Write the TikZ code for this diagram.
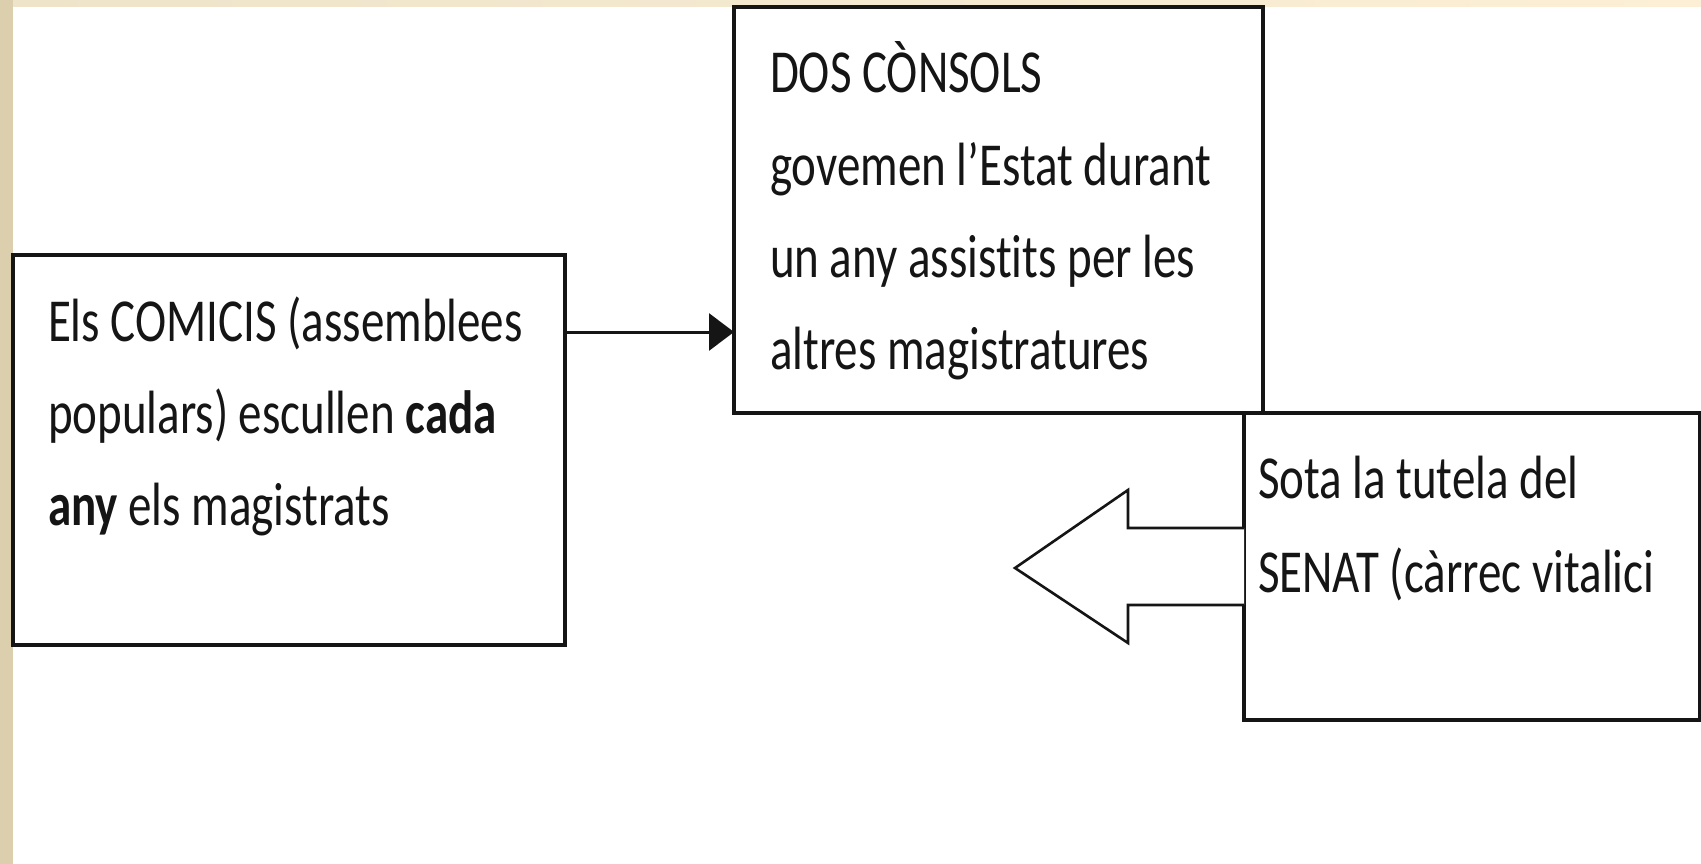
\documentclass[tikz,border=0pt]{standalone}
\usepackage{fontspec}
\setmainfont{Carlito}[RawFeature={-liga;-clig;-dlig}]
\usetikzlibrary{arrows.meta}
\definecolor{leftstrip}{HTML}{DCCFAE}
\definecolor{topA}{HTML}{EDE4CA}
\definecolor{topB}{HTML}{FCEFD6}
\definecolor{ink}{HTML}{151515}
\newcommand{\boxtext}[1]{\fontsize{47}{70.8}\selectfont\scalebox{1}[1.3]{\begin{tabular}[t]{@{}l@{}}#1\end{tabular}}}
\begin{document}
\begin{tikzpicture}[x=1pt,y=-1pt,
  box/.style={draw=ink, line width=3.2pt, rectangle, inner sep=0pt, outer sep=0pt, anchor=north west, fill=white},
  txt/.style={anchor=base west, inner sep=0pt, outer sep=0pt, text=ink},
  conn/.style={draw=ink, line width=3pt, -{Triangle[length=25pt,width=37pt]}},
  blockarrow/.style={draw=ink, line width=2.6pt, line join=miter, fill=white}]
  \useasboundingbox (0,0) rectangle (1701,864);
  \fill[white] (0,0) rectangle (1701,864);
  \shade[left color=topA, right color=topB] (0,0) rectangle (1701,7);
  \fill[leftstrip] (0,0) rectangle (13,864);

  % boxes
  \node[box, minimum width=552pt, minimum height=390pt] (A) at (13,255) {};
  \node[box, minimum width=529pt, minimum height=406pt] (B) at (734,7) {};
  \node[box, minimum width=456pt, minimum height=307pt] (C) at (1244,413) {};

  % texts
  \node[txt] (tA) at (48,341) {\boxtext{Els COMICIS (assemblees\\populars) escullen \textbf{cada}\\\textbf{any} els magistrats}};
  \node[txt] (tB) at (770,93) {\boxtext{DOS CÒNSOLS\\govemen l’Estat durant\\un any assist\kern0pt its per les\\altres magistratures}};
  \node[txt] (tC) at (1258,498) {\fontsize{47}{73}\selectfont\scalebox{1}[1.3]{\begin{tabular}[t]{@{}l@{}}Sota la tutela del\\SENAT (càrrec vitalici\end{tabular}}};

  % connector A -> B
  \coordinate (a1) at ([yshift=-77pt]A.north east);
  \draw[conn] (a1) -- (a1 -| B.west);

  % block arrow from C pointing left
  \coordinate (s1) at (C.north west |- 0,528);
  \coordinate (s2) at (C.north west |- 0,605);
  \draw[blockarrow] (s1) -- (1128,528) -- (1128,490) -- (1015,568) -- (1128,643) -- (1128,605) -- (s2);
\end{tikzpicture}
\end{document}
